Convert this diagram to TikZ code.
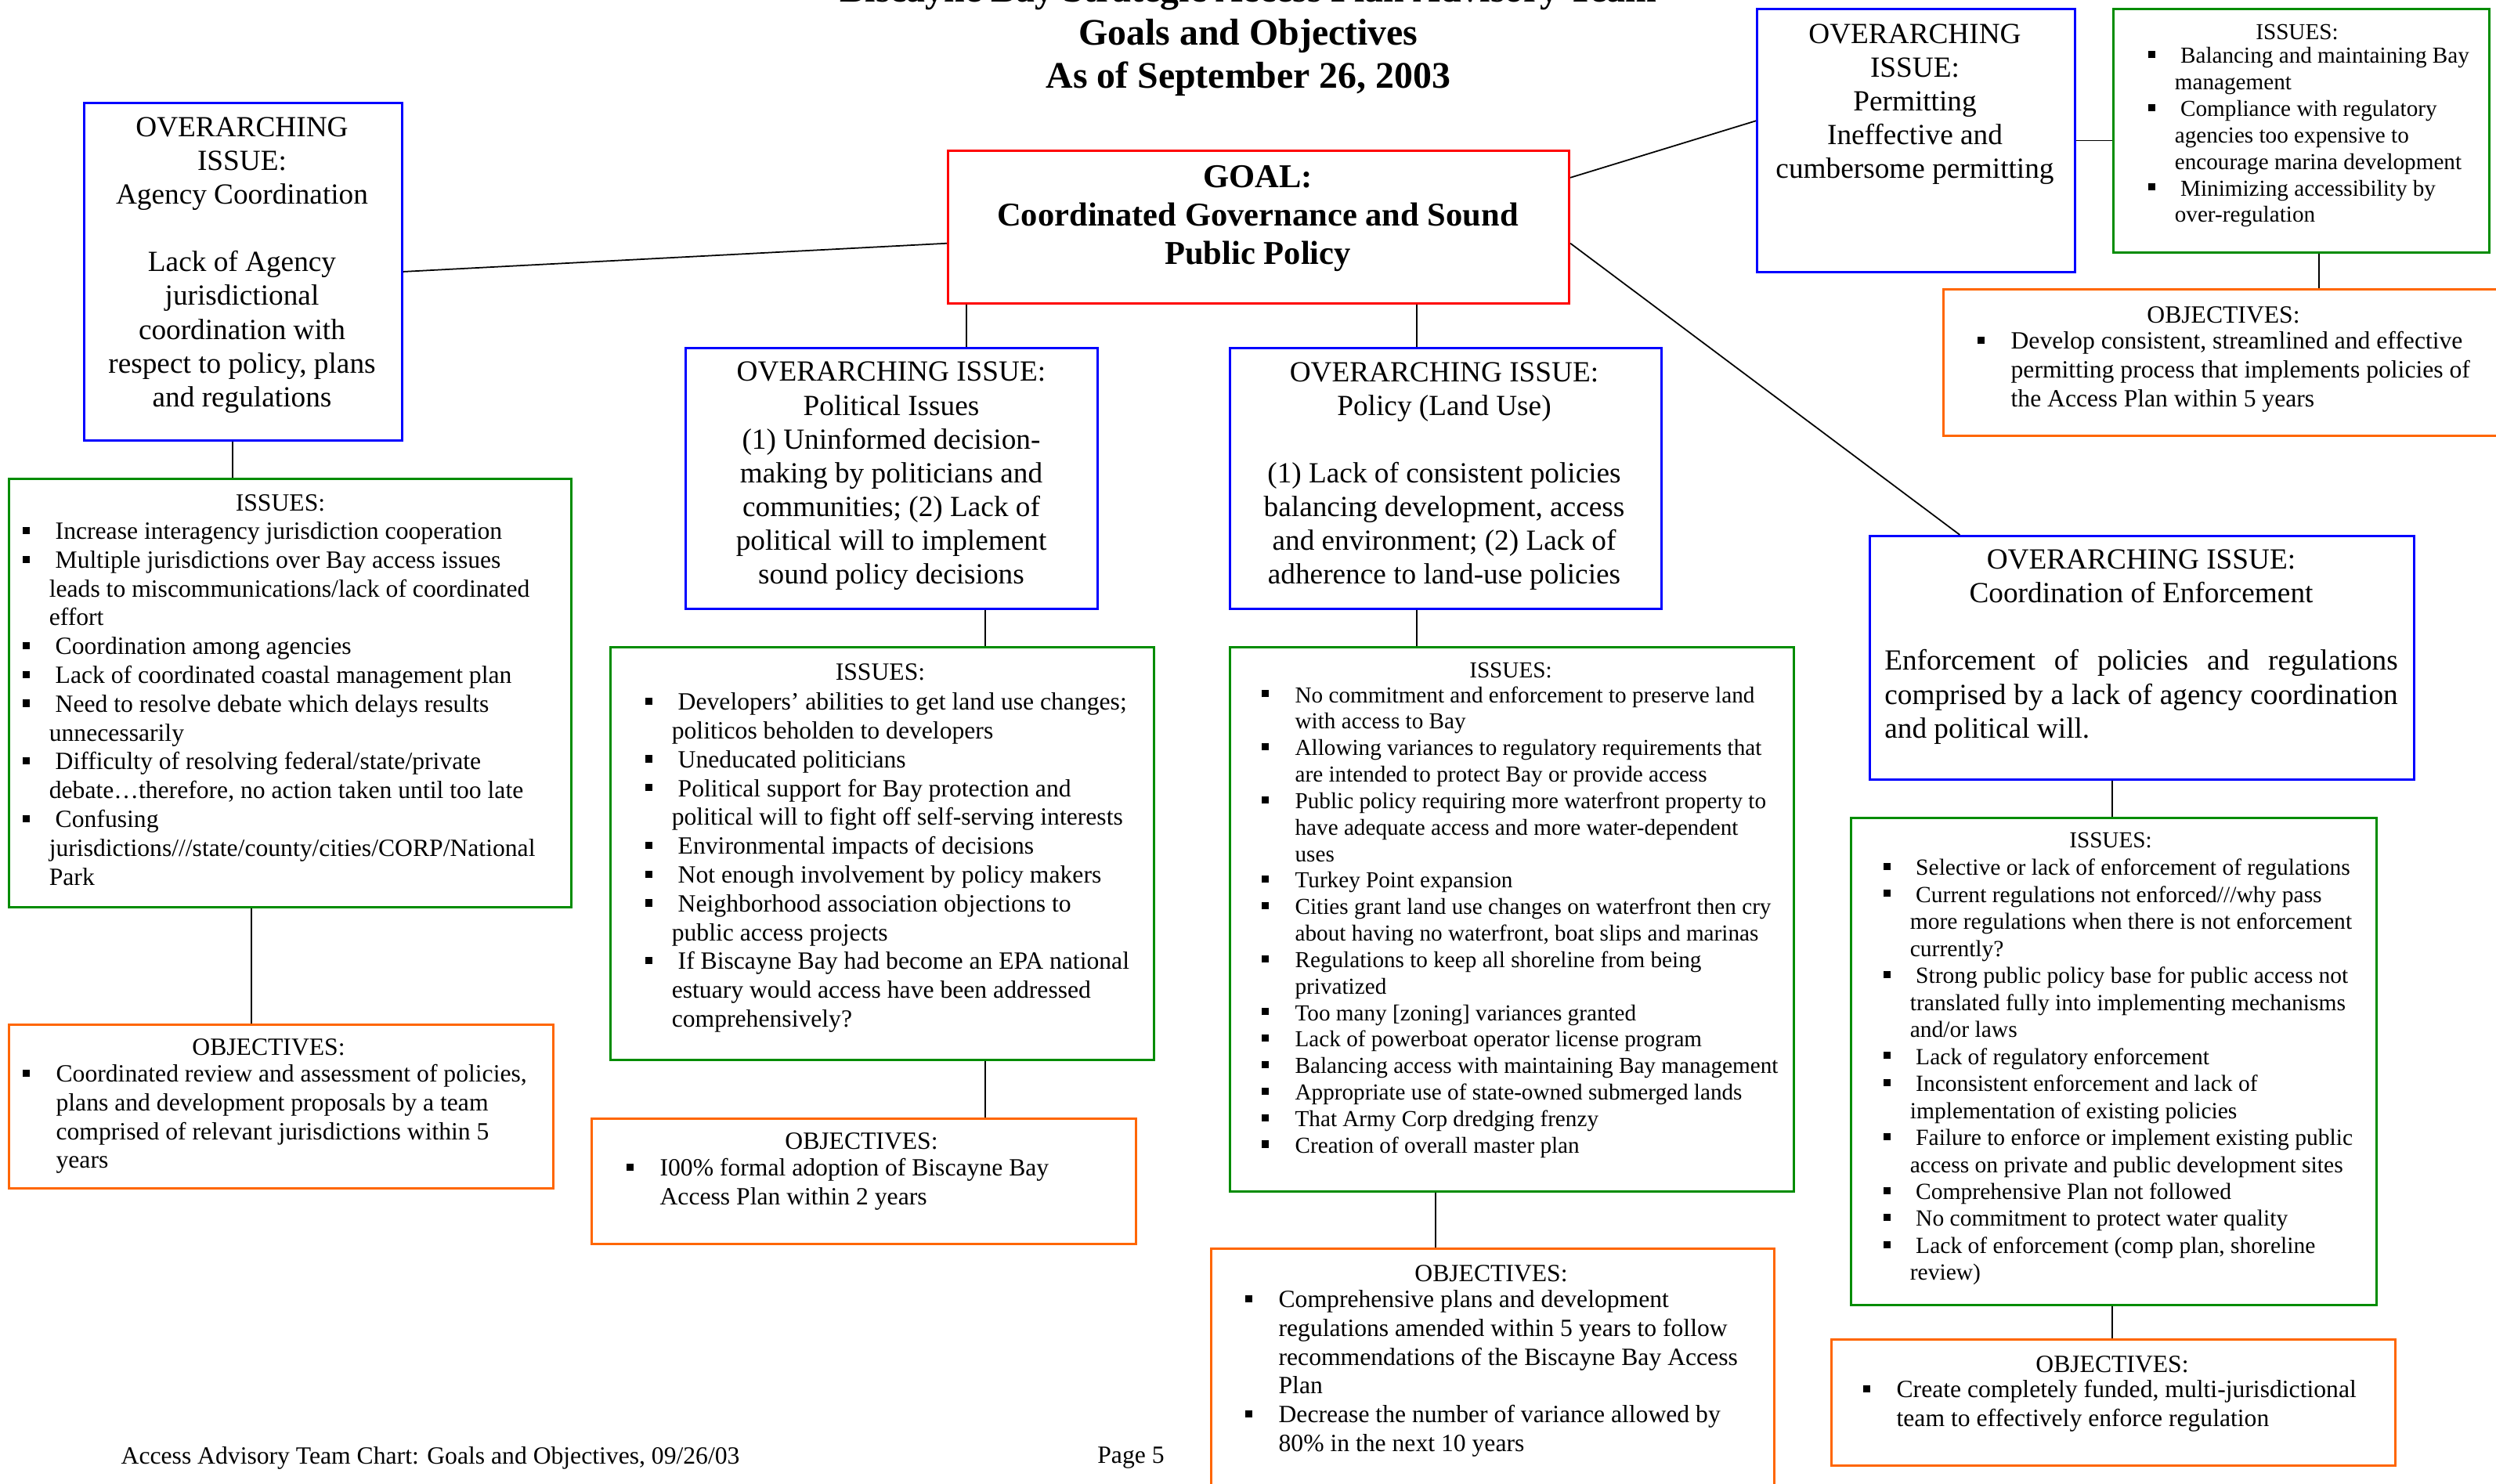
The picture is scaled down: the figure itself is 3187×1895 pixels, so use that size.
\documentclass[tikz,border=0pt]{standalone}
\usepackage{fontspec}
\setmainfont{Liberation Serif}
\usepackage{xcolor}

\definecolor{oiblue}{RGB}{0,0,255}
\definecolor{issgreen}{RGB}{0,140,0}
\definecolor{objorange}{RGB}{255,102,0}
\definecolor{goalred}{RGB}{255,0,0}

% puces
\newcommand{\bsq}{\rule[1.9pt]{2.6pt}{2.6pt}}
\newcommand{\bitem}{\makebox[9.7pt][l]{\bsq}\ }
\newcommand{\bcont}{\hspace*{9.7pt}}
\newcommand{\oitem}{\makebox[12.2pt][l]{\bsq}}
\newcommand{\ocont}{\hspace*{12.2pt}}

\tikzset{
  goalbox/.style={draw=goalred, line width=0.75pt, inner sep=0pt, anchor=north west},
  oibox/.style={draw=oiblue, line width=0.75pt, inner sep=0pt, anchor=north west},
  issbox/.style={draw=issgreen, line width=0.75pt, inner sep=0pt, anchor=north west},
  objbox/.style={draw=objorange, line width=0.75pt, inner sep=0pt, anchor=north west},
  link/.style={draw=black, line width=0.5pt},
  titletxt/.style={font=\bfseries\fontsize{13.6}{15.65}\selectfont, align=center, inner sep=0pt, yshift=-0.05cm},
  goaltxt/.style={font=\bfseries\fontsize{12.1}{13.94}\selectfont, align=center, inner sep=0pt, yshift=-0.05cm},
  oitxt/.style={font=\fontsize{10.6}{12.26}\selectfont, align=center, inner sep=0pt, yshift=-0.05cm},
  headtxt/.style={font=\fontsize{9}{10.46}\selectfont, inner sep=0pt, yshift=-0.04cm},
  smallhead/.style={font=\fontsize{8.3}{9.62}\selectfont, inner sep=0pt, yshift=-0.04cm},
  listtxt/.style={font=\fontsize{9}{10.46}\selectfont, align=left, inner sep=0pt, anchor=west, yshift=-0.03cm},
  smalltxt/.style={font=\fontsize{8.3}{9.62}\selectfont, align=left, inner sep=0pt, anchor=west, yshift=-0.04cm},
}

\begin{document}
\begin{tikzpicture}[x=0.01cm, y=-0.01cm]
    \useasboundingbox (0,0) rectangle (3187,1895);

    % Titre
    \node[titletxt] (title) at (1594,41) {Biscayne Bay Strategic Access Plan Advisory Team\\Goals and Objectives\\As of September 26, 2003};

    % But
    \node[goalbox, minimum width=7.93cm, minimum height=1.95cm] (goal) at (1209,191) {};
    \node[goaltxt] (goaltext) at (1606,274) {GOAL:\\Coordinated Governance and Sound\\Public Policy};

    % Coordination des agences
    \node[oibox, minimum width=4.06cm, minimum height=4.31cm] (agency) at (106,130) {};
    \node[oitxt] (agencytext) at (309,333.5) {OVERARCHING\\ISSUE:\\Agency Coordination\\[12.26pt]Lack of Agency\\jurisdictional\\coordination with\\respect to policy, plans\\and regulations};

    \node[issbox, minimum width=7.18cm, minimum height=5.47cm] (agiss) at (10,610) {};
    \node[headtxt] (agisshead) at (358,638) {ISSUES:};
    \node[listtxt] (agisslist) at (28,895.5) {\bitem Increase interagency jurisdiction cooperation\\
        \bitem Multiple jurisdictions over Bay access issues\\
        \bcont leads to miscommunications/lack of coordinated\\
        \bcont effort\\
        \bitem Coordination among agencies\\
        \bitem Lack of coordinated coastal management plan\\
        \bitem Need to resolve debate which delays results\\
        \bcont unnecessarily\\
        \bitem Difficulty of resolving federal/state/private\\
        \bcont debate…therefore, no action taken until too late\\
        \bitem Confusing\\
        \bcont jurisdictions///state/county/cities/CORP/National\\
        \bcont Park};

    \node[objbox, minimum width=6.95cm, minimum height=2.09cm] (agobj) at (10,1307) {};
    \node[headtxt] (agobjhead) at (343,1333) {OBJECTIVES:};
    \node[listtxt] (agobjlist) at (28,1426) {\oitem Coordinated review and assessment of policies,\\
        \ocont plans and development proposals by a team\\
        \ocont comprised of relevant jurisdictions within 5\\
        \ocont years};

    % Questions politiques
    \node[oibox, minimum width=5.26cm, minimum height=3.33cm] (pol) at (874,443) {};
    \node[oitxt] (poltext) at (1138,603) {OVERARCHING ISSUE:\\Political Issues\\(1) Uninformed decision-\\making by politicians and\\communities; (2) Lack of\\political will to implement\\sound policy decisions};

    \node[issbox, minimum width=6.94cm, minimum height=5.27cm] (poliss) at (778,825) {};
    \node[headtxt] (polisshead) at (1124,854) {ISSUES:};
    \node[listtxt] (polisslist) at (823,1098.5) {\bitem Developers’ abilities to get land use changes;\\
        \bcont politicos beholden to developers\\
        \bitem Uneducated politicians\\
        \bitem Political support for Bay protection and\\
        \bcont political will to fight off self-serving interests\\
        \bitem Environmental impacts of decisions\\
        \bitem Not enough involvement by policy makers\\
        \bitem Neighborhood association objections to\\
        \bcont public access projects\\
        \bitem If Biscayne Bay had become an EPA national\\
        \bcont estuary would access have been addressed\\
        \bcont comprehensively?};

    \node[objbox, minimum width=6.95cm, minimum height=1.60cm] (polobj) at (754,1427) {};
    \node[headtxt] (polobjhead) at (1100,1453) {OBJECTIVES:};
    \node[listtxt] (polobjlist) at (799,1509) {\oitem I00\% formal adoption of Biscayne Bay\\
        \ocont Access Plan within 2 years};

    % Politique (occupation des sols)
    \node[oibox, minimum width=5.51cm, minimum height=3.33cm] (landuse) at (1569,443) {};
    \node[oitxt] (landusetext) at (1844,603) {OVERARCHING ISSUE:\\Policy (Land Use)\\[12.26pt](1) Lack of consistent policies\\balancing development, access\\and environment; (2) Lack of\\adherence to land-use policies};

    \node[issbox, minimum width=7.20cm, minimum height=6.95cm] (luiss) at (1569,825) {};
    \node[smallhead] (luisshead) at (1929,852) {ISSUES:};
    \node[smalltxt] (luisslist) at (1610,1173.5) {\oitem No commitment and enforcement to preserve land\\
        \ocont with access to Bay\\
        \oitem Allowing variances to regulatory requirements that\\
        \ocont are intended to protect Bay or provide access\\
        \oitem Public policy requiring more waterfront property to\\
        \ocont have adequate access and more water-dependent\\
        \ocont uses\\
        \oitem Turkey Point expansion\\
        \oitem Cities grant land use changes on waterfront then cry\\
        \ocont about having no waterfront, boat slips and marinas\\
        \oitem Regulations to keep all shoreline from being\\
        \ocont privatized\\
        \oitem Too many [zoning] variances granted\\
        \oitem Lack of powerboat operator license program\\
        \oitem Balancing access with maintaining Bay management\\
        \oitem Appropriate use of state-owned submerged lands\\
        \oitem That Army Corp dredging frenzy\\
        \oitem Creation of overall master plan};

    \node[objbox, minimum width=7.19cm, minimum height=3.60cm] (luobj) at (1545,1593) {};
    \node[headtxt] (luobjhead) at (1904,1622) {OBJECTIVES:};
    \node[listtxt] (luobjlist) at (1589,1751) {\oitem Comprehensive plans and development\\
        \ocont regulations amended within 5 years to follow\\
        \ocont recommendations of the Biscayne Bay Access\\
        \ocont Plan\\
        \oitem Decrease the number of variance allowed by\\
        \ocont 80\% in the next 10 years};

    % Permis
    \node[oibox, minimum width=4.06cm, minimum height=3.36cm] (perm) at (2242,10) {};
    \node[oitxt] (permtext) at (2445,128) {OVERARCHING\\ISSUE:\\Permitting\\Ineffective and\\cumbersome permitting};

    \node[issbox, minimum width=4.80cm, minimum height=3.11cm] (permiss) at (2697,10) {};
    \node[smallhead] (permisshead) at (2933,37) {ISSUES:};
    \node[smalltxt] (permisslist) at (2742,171.5) {\bitem Balancing and maintaining Bay\\
        \bcont management\\
        \bitem Compliance with regulatory\\
        \bcont agencies too expensive to\\
        \bcont encourage marina development\\
        \bitem Minimizing accessibility by\\
        \bcont over-regulation};

    \node[objbox, minimum width=7.60cm, minimum height=1.87cm] (permobj) at (2480,368) {};
    \node[headtxt] (permobjhead) at (2839,398) {OBJECTIVES:};
    \node[listtxt] (permobjlist) at (2524,471.5) {\oitem Develop consistent, streamlined and effective\\
        \ocont permitting process that implements policies of\\
        \ocont the Access Plan within 5 years};

    % Application des regles
    \node[oibox, minimum width=6.95cm, minimum height=3.11cm] (enf) at (2386,683) {};
    \node[oitxt] (enftext) at (2734,821) {OVERARCHING ISSUE:\\Coordination of Enforcement\\[12.26pt]
        \makebox[6.55cm][s]{Enforcement of policies and regulations}\\
        \makebox[6.55cm][s]{comprised by a lack of agency coordination}\\
        \makebox[6.55cm][l]{and political will.}};

    \node[issbox, minimum width=6.71cm, minimum height=6.22cm] (enfiss) at (2362,1043) {};
    \node[smallhead] (enfisshead) at (2695,1069) {ISSUES:};
    \node[smalltxt, font=\fontsize{8.4}{9.81}\selectfont] (enfisslist) at (2404,1365) {\bitem Selective or lack of enforcement of regulations\\
        \bitem Current regulations not enforced///why pass\\
        \bcont more regulations when there is not enforcement\\
        \bcont currently?\\
        \bitem Strong public policy base for public access not\\
        \bcont translated fully into implementing mechanisms\\
        \bcont and/or laws\\
        \bitem Lack of regulatory enforcement\\
        \bitem Inconsistent enforcement and lack of\\
        \bcont implementation of existing policies\\
        \bitem Failure to enforce or implement existing public\\
        \bcont access on private and public development sites\\
        \bitem Comprehensive Plan not followed\\
        \bitem No commitment to protect water quality\\
        \bitem Lack of enforcement (comp plan, shoreline\\
        \bcont review)};

    \node[objbox, minimum width=7.20cm, minimum height=1.61cm] (enfobj) at (2337,1709) {};
    \node[headtxt] (enfobjhead) at (2697,1738) {OBJECTIVES:};
    \node[listtxt] (enfobjlist) at (2378,1792.5) {\oitem Create completely funded, multi-jurisdictional\\
        \ocont team to effectively enforce regulation};

    % Liaisons
    \coordinate (xag) at (297,0);
    \coordinate (xagb) at (321,0);
    \coordinate (xpol) at (1234,0);
    \coordinate (xpolb) at (1258,0);
    \coordinate (xlu) at (1809,0);
    \coordinate (xlub) at (1833,0);
    \coordinate (xperm) at (2961,0);
    \coordinate (xenf) at (2697,0);

    \draw[link] (agency.east) -- (goal.183);
    \draw[link] (goal.9) -- (perm.173);
    \draw[link] (goal.-3) -- (enf.146);
    \draw[link] (perm.east) -- (perm.east -| permiss.west);
    \draw[link] (xag |- agency.south) -- (xag |- agiss.north);
    \draw[link] (xagb |- agiss.south) -- (xagb |- agobj.north);
    \draw[link] (xpol |- goal.south) -- (xpol |- pol.north);
    \draw[link] (xpolb |- pol.south) -- (xpolb |- poliss.north);
    \draw[link] (xpolb |- poliss.south) -- (xpolb |- polobj.north);
    \draw[link] (xlu |- goal.south) -- (xlu |- landuse.north);
    \draw[link] (xlu |- landuse.south) -- (xlu |- luiss.north);
    \draw[link] (xlub |- luiss.south) -- (xlub |- luobj.north);
    \draw[link] (xperm |- permiss.south) -- (xperm |- permobj.north);
    \draw[link] (xenf |- enf.south) -- (xenf |- enfiss.north);
    \draw[link] (xenf |- enfiss.south) -- (xenf |- enfobj.north);

    % Pied de page
    \node[headtxt, anchor=west] (footer) at (154,1858) {Access Advisory Team Chart: Goals and Objectives, 09/26/03};
    \node[headtxt] (pagenum) at (1444,1858) {Page 5};
\end{tikzpicture}
\end{document}
